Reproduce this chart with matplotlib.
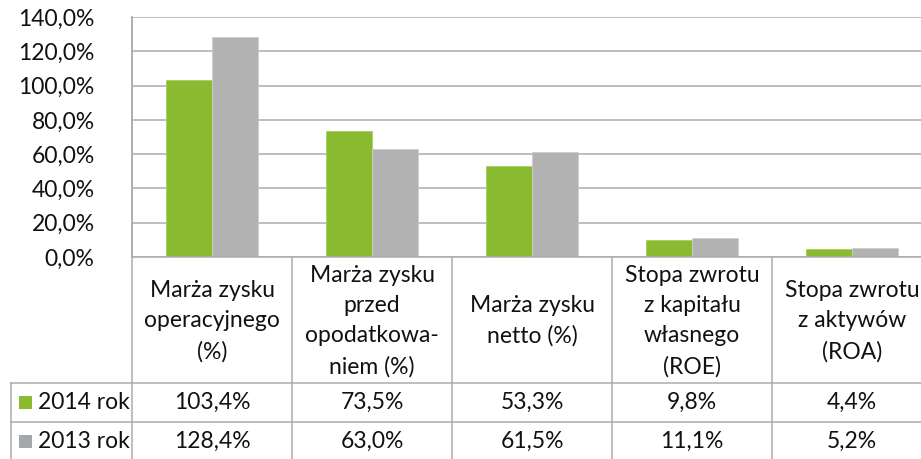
import matplotlib
matplotlib.use("Agg")
import matplotlib.pyplot as plt
import numpy as np

categories = ["Marża zysku\noperacyjnego\n(%)",
              "Marża zysku\nprzed\nopodatkowa-\nniem (%)",
              "Marża zysku\nnetto (%)",
              "Stopa zwrotu\nz kapitału\nwłasnego\n(ROE)",
              "Stopa zwrotu\nz aktywów\n(ROA)"]
series_names = ["2014 rok", "2013 rok"]
values_2014 = [103.4, 73.5, 53.3, 9.8, 4.4]
values_2013 = [128.4, 63.0, 61.5, 11.1, 5.2]
y_ticks = [0, 20, 40, 60, 80, 100, 120, 140]

GREEN = "#8aba30"
GRAY = "#b2b2b2"
GRAY_KEY = "#a3a8ab"
GRID = "#acacac"
FONT = "Lato"
FS = 16.5

W, H = 921, 459
fig = plt.figure(figsize=(W / 100, H / 100), dpi=100)

# plot area in pixel coordinates
x0, x1 = 132, 932
y_top, y_bot = 17, 257
ax = fig.add_axes([x0 / W, 1 - y_bot / H, (x1 - x0) / W, (y_bot - y_top) / H])
n = len(categories)
idx = np.arange(n)
bw = 0.2875
ax.bar(idx - bw / 2, values_2014, bw, color=GREEN, edgecolor="#a9d05a", linewidth=0.6, zorder=3)
ax.bar(idx + bw / 2, values_2013, bw, color=GRAY, edgecolor="#cdcdcd", linewidth=0.6, zorder=3)
ax.set_xlim(-0.5, n - 0.5)
ax.set_ylim(0, 140)
ax.set_yticks(y_ticks)
ax.set_yticklabels([f"{v:.1f}%".replace(".", ",") for v in y_ticks], fontsize=FS, family=FONT, color="#111111")
ax.tick_params(axis="y", length=0, pad=27)
ax.set_xticks([])
ax.yaxis.grid(True, color=GRID, linewidth=1.1, zorder=0)
ax.set_axisbelow(True)
for s in ["top", "right", "bottom"]:
    ax.spines[s].set_visible(False)
ax.spines["left"].set_color(GRID)
ax.spines["left"].set_linewidth(1.1)

# data table overlay
ov = fig.add_axes([0, 0, 1, 1])
ov.set_xlim(0, W)
ov.set_ylim(H, 0)
ov.axis("off")
cw = (x1 - x0) / n
r_head = 383
r_mid = 422
lkw = dict(color=GRID, linewidth=1.1)
ov.plot([x0, W], [y_bot, y_bot], **lkw)
ov.plot([x0, x0], [y_top, H], **lkw)
for i in range(1, n):
    xx = x0 + cw * i
    ov.plot([xx, xx], [y_bot, H], **lkw)
ov.plot([11, W], [r_head, r_head], **lkw)
ov.plot([11, W], [r_mid, r_mid], **lkw)
ov.plot([11, 11], [r_head, H], **lkw)

for i, c in enumerate(categories):
    ov.text(x0 + cw * (i + 0.5), (y_bot + r_head) / 2 + 1, c, ha="center", va="center",
            fontsize=FS, family=FONT, linespacing=1.55, color="#111111")

rows = [(series_names[0], values_2014, GREEN, (r_head + r_mid) / 2),
        (series_names[1], values_2013, GRAY_KEY, (r_mid + H) / 2 + 1)]
for name, vals, col, yc in rows:
    ov.add_patch(plt.Rectangle((19, yc - 6.5), 13, 13, color=col, lw=0))
    ov.text(38, yc, name, ha="left", va="center", fontsize=FS, family=FONT, color="#111111")
    for i, v in enumerate(vals):
        ov.text(x0 + cw * (i + 0.5), yc, f"{v:.1f}%".replace(".", ","), ha="center", va="center",
                fontsize=FS, family=FONT, color="#111111")

fig.savefig("out.png", dpi=100)
